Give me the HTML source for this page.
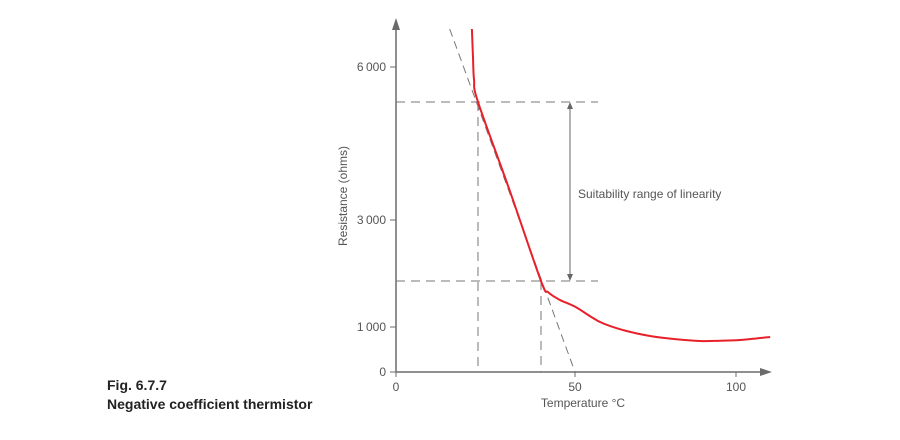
<!DOCTYPE html>
<html><head><meta charset="utf-8"><style>
body{margin:0;background:#fff;width:900px;height:435px;overflow:hidden;font-family:"Liberation Sans",sans-serif}
svg text{font-family:"Liberation Sans",sans-serif}
</style></head><body>
<svg id="chart" width="900" height="435" viewBox="0 0 900 435">
<g stroke="#6b6b6b" stroke-width="1.5" fill="none">
<line x1="396" y1="372" x2="396" y2="28"/>
<line x1="396" y1="372" x2="765" y2="372"/>
</g>
<polygon points="396,18 392,30 400,30" fill="#6b6b6b"/>
<polygon points="772,372 760,368 760,376" fill="#6b6b6b"/>
<g id="ticks"></g>
<g id="guides"></g>
<path id="curve" fill="none" stroke="#e8202a" stroke-width="2"/>
<text transform="translate(347,196) rotate(-90)" text-anchor="middle" font-size="12" fill="#555">Resistance (ohms)</text>
<text x="583" y="407" text-anchor="middle" font-size="12" fill="#555">Temperature °C</text>
<text x="578" y="198" font-size="12" fill="#555">Suitability range of linearity</text>
<text x="107" y="390" font-size="14" font-weight="bold" fill="#222">Fig. 6.7.7</text>
<text x="107" y="409" font-size="14" font-weight="bold" fill="#222">Negative coefficient thermistor</text>
</svg>
<script>
const xTicks=[0,50,100];
const yTicks=[0,1000,3000,6000];
const curveT=[21.2,21.5,21.8,22.9,31.7,40.5,42.5,45.8,50,57.8,65,73.3,80,88.8,95,101.2,110.6];
const curveR=[6745,6200,5745,5314,3590,1860,1650,1505,1380,1093,930,800,740,689,695,711,778];
const linStartT=[22.9,40.5];
const linStartR=[5314,1860];
const tangentT=[15,50];
const tangentR=[6745,0];
const xPx=[396,575,736], yPx=[372,327,220,67];
function interp(v,d,p){let i=0;while(i<d.length-2&&v>d[i+1])i++;return p[i]+(v-d[i])*(p[i+1]-p[i])/(d[i+1]-d[i]);}
const X=v=>interp(v,xTicks,xPx), Y=v=>interp(v,yTicks,yPx);
const NS="http://www.w3.org/2000/svg";
function mk(tag,attrs,parent){const e=document.createElementNS(NS,tag);for(const k in attrs)e.setAttribute(k,attrs[k]);parent.appendChild(e);return e;}
const tg=document.getElementById('ticks');
xTicks.forEach(t=>{
 const l=mk('line',{x1:X(t),x2:X(t),y1:372,y2:377,stroke:'#6b6b6b','stroke-width':1},tg);
 
 
 const tx=mk('text',{x:X(t),y:391,'text-anchor':'middle','font-size':12,fill:'#555'},tg);tx.textContent=t;
 
 
});
yTicks.forEach(t=>{
 const l=mk('line',{x1:390,x2:396,y1:Y(t),y2:Y(t),stroke:'#6b6b6b','stroke-width':1},tg);
 
 
 const tx=mk('text',{x:386,y:Y(t)+4,'text-anchor':'end','font-size':12,fill:'#555'},tg);
 tx.textContent=t===0?'0':t.toLocaleString('en-US').replace(',','\u2009');
 
 
});
const gg=document.getElementById('guides');
const dash={stroke:'#777','stroke-width':1,'stroke-dasharray':'9,6',fill:'none'};
for(let i=0;i<2;i++){
 const h=mk('line',Object.assign({x1:396,x2:598,y1:Y(linStartR[i]),y2:Y(linStartR[i])},dash),gg);
 
 
 const v=mk('line',Object.assign({x1:X(linStartT[i]),x2:X(linStartT[i]),y1:Y(linStartR[i]),y2:372},dash),gg);
 
 
}
const tl=mk('line',{x1:X(tangentT[0]),y1:Y(tangentR[0]),x2:X(tangentT[1]),y2:Y(tangentR[1]),stroke:'#777','stroke-width':1,'stroke-dasharray':'8,5'},gg);


const y1=Y(linStartR[0]),y2=Y(linStartR[1]);
const ar=mk('line',{x1:570,x2:570,y1:y1+4,y2:y2-4,stroke:'#666','stroke-width':1},gg);


const ah1=mk('polygon',{points:`570,${y1} 567,${y1+7} 573,${y1+7}`,fill:'#666'},gg);


const ah2=mk('polygon',{points:`570,${y2} 567,${y2-7} 573,${y2-7}`,fill:'#666'},gg);


// smooth curve via Catmull-Rom
const pts=curveT.map((t,i)=>[X(t),Y(curveR[i])]);
let d=`M${pts[0][0]},${pts[0][1]}`;
for(let i=0;i<pts.length-1;i++){
 const p0=pts[i-1]||pts[i],p1=pts[i],p2=pts[i+1],p3=pts[i+2]||p2;
 d+=` C${p1[0]+(p2[0]-p0[0])/6},${p1[1]+(p2[1]-p0[1])/6} ${p2[0]-(p3[0]-p1[0])/6},${p2[1]-(p3[1]-p1[1])/6} ${p2[0]},${p2[1]}`;
}
document.getElementById('curve').setAttribute('d',d);
</script>
</body></html>
